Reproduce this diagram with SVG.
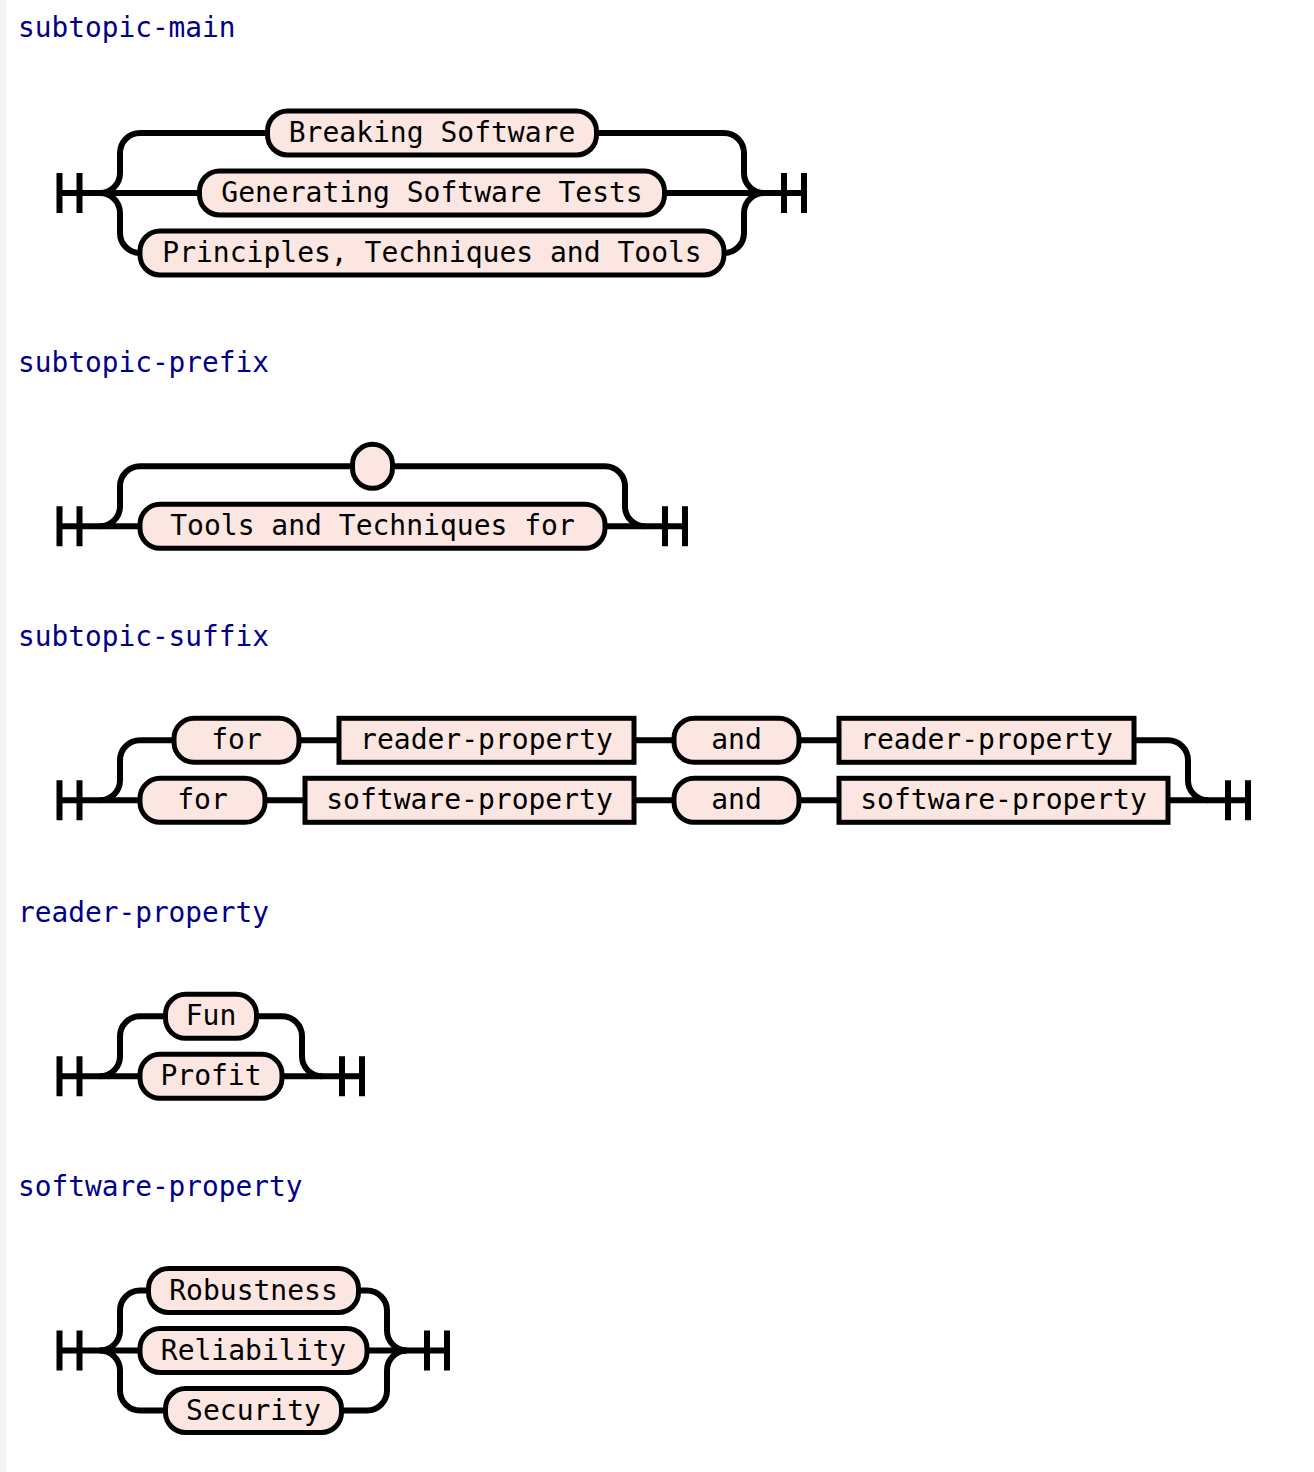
<svg xmlns="http://www.w3.org/2000/svg" width="1314" height="1472" viewBox="0 0 1314 1472">
<style>
.rail{fill:none;stroke:#000;stroke-width:6}
.term{fill:#fbe6e2;stroke:#000;stroke-width:5}
.lbl{font-family:"DejaVu Sans Mono","Liberation Mono",monospace;font-size:28px;text-anchor:middle;fill:#000}
.title{font-family:"DejaVu Sans Mono","Liberation Mono",monospace;font-size:27.8px;fill:#000088}
</style>
<rect x="0" y="0" width="1314" height="1472" fill="#fff"/>
<rect x="0" y="0" width="6" height="1472" fill="#f3f3f3"/>

<text class="title" x="18" y="37">subtopic-main</text>
<text class="title" x="18" y="372">subtopic-prefix</text>
<text class="title" x="18" y="646">subtopic-suffix</text>
<text class="title" x="18" y="921.5">reader-property</text>
<text class="title" x="18" y="1196">software-property</text>

<!-- Diagram 1 -->
<g id="d1" transform="translate(0,193)">
  <g id="d1-connectors">
    <path class="rail" d="M59.5 -20 v40 M79.5 -20 v40 M59.5 0 H100"/>
    <path class="rail" d="M100 0 a20 20 0 0 0 20 -20 v-20 a20 20 0 0 1 20 -20 H267.5 M596.5 -60 H724 a20 20 0 0 1 20 20 v20 a20 20 0 0 0 20 20"/>
    <path class="rail" d="M100 0 H199.5 M664.5 0 H764"/>
    <path class="rail" d="M100 0 a20 20 0 0 1 20 20 v20 a20 20 0 0 0 20 20 M724 60 a20 20 0 0 0 20 -20 v-20 a20 20 0 0 1 20 -20"/>
    <path class="rail" d="M764 0 H804 M784 -20 v40 M804 -20 v40"/>
  </g>
  <g id="d1-breaking"><rect class="term" x="267.5" y="-82" width="329" height="44" rx="20"/><text class="lbl" x="432" y="-51">Breaking Software</text></g>
  <g id="d1-generating"><rect class="term" x="199.5" y="-22" width="465" height="44" rx="20"/><text class="lbl" x="432" y="9">Generating Software Tests</text></g>
  <g id="d1-principles"><rect class="term" x="140" y="38" width="584" height="44" rx="20"/><text class="lbl" x="432" y="69">Principles, Techniques and Tools</text></g>
</g>

<!-- Diagram 2 -->
<g id="d2" transform="translate(0,526.3)">
  <g id="d2-connectors">
    <path class="rail" d="M59.5 -20 v40 M79.5 -20 v40 M59.5 0 H100"/>
    <path class="rail" d="M100 0 a20 20 0 0 0 20 -20 v-20 a20 20 0 0 1 20 -20 H352.5 M392.5 -60 H605 a20 20 0 0 1 20 20 v20 a20 20 0 0 0 20 20"/>
    <path class="rail" d="M100 0 H140 M605 0 H645"/>
    <path class="rail" d="M645 0 H685 M665 -20 v40 M685 -20 v40"/>
  </g>
  <g id="d2-empty"><rect class="term" x="352.5" y="-82" width="40" height="44" rx="20"/></g>
  <g id="d2-tools"><rect class="term" x="140" y="-22" width="465" height="44" rx="20"/><text class="lbl" x="372.5" y="9">Tools and Techniques for</text></g>
</g>

<!-- Diagram 3 -->
<g id="d3" transform="translate(0,800.3)">
  <g id="d3-connectors">
    <path class="rail" d="M59.5 -20 v40 M79.5 -20 v40 M59.5 0 H100"/>
    <path class="rail" d="M100 0 a20 20 0 0 0 20 -20 v-20 a20 20 0 0 1 20 -20 H174 M299 -60 H339 M634 -60 H674 M799 -60 H839 M1134 -60 H1168 a20 20 0 0 1 20 20 v20 a20 20 0 0 0 20 20"/>
    <path class="rail" d="M100 0 H140 M265 0 H305 M634 0 H674 M799 0 H839 M1168 0 H1208"/>
    <path class="rail" d="M1208 0 H1248 M1228 -20 v40 M1248 -20 v40"/>
  </g>
  <g id="d3-for1"><rect class="term" x="174" y="-82" width="125" height="44" rx="20"/><text class="lbl" x="236.5" y="-51">for</text></g>
  <g id="d3-rp1"><rect class="term" x="339" y="-82" width="295" height="44"/><text class="lbl" x="486.5" y="-51">reader-property</text></g>
  <g id="d3-and1"><rect class="term" x="674" y="-82" width="125" height="44" rx="20"/><text class="lbl" x="736.5" y="-51">and</text></g>
  <g id="d3-rp2"><rect class="term" x="839" y="-82" width="295" height="44"/><text class="lbl" x="986.5" y="-51">reader-property</text></g>
  <g id="d3-for2"><rect class="term" x="140" y="-22" width="125" height="44" rx="20"/><text class="lbl" x="202.5" y="9">for</text></g>
  <g id="d3-sp1"><rect class="term" x="305" y="-22" width="329" height="44"/><text class="lbl" x="469.5" y="9">software-property</text></g>
  <g id="d3-and2"><rect class="term" x="674" y="-22" width="125" height="44" rx="20"/><text class="lbl" x="736.5" y="9">and</text></g>
  <g id="d3-sp2"><rect class="term" x="839" y="-22" width="329" height="44"/><text class="lbl" x="1003.5" y="9">software-property</text></g>
</g>

<!-- Diagram 4 -->
<g id="d4" transform="translate(0,1076.3)">
  <g id="d4-connectors">
    <path class="rail" d="M59.5 -20 v40 M79.5 -20 v40 M59.5 0 H100"/>
    <path class="rail" d="M100 0 a20 20 0 0 0 20 -20 v-20 a20 20 0 0 1 20 -20 H165.5 M256.5 -60 H282 a20 20 0 0 1 20 20 v20 a20 20 0 0 0 20 20"/>
    <path class="rail" d="M100 0 H140 M282 0 H322"/>
    <path class="rail" d="M322 0 H362 M342 -20 v40 M362 -20 v40"/>
  </g>
  <g id="d4-fun"><rect class="term" x="165.5" y="-82" width="91" height="44" rx="20"/><text class="lbl" x="211" y="-51">Fun</text></g>
  <g id="d4-profit"><rect class="term" x="140" y="-22" width="142" height="44" rx="20"/><text class="lbl" x="211" y="9">Profit</text></g>
</g>

<!-- Diagram 5 -->
<g id="d5" transform="translate(0,1350.5)">
  <g id="d5-connectors">
    <path class="rail" d="M59.5 -20 v40 M79.5 -20 v40 M59.5 0 H100"/>
    <path class="rail" d="M100 0 a20 20 0 0 0 20 -20 v-20 a20 20 0 0 1 20 -20 H148.5 M358.5 -60 H367 a20 20 0 0 1 20 20 v20 a20 20 0 0 0 20 20"/>
    <path class="rail" d="M100 0 H140 M367 0 H407"/>
    <path class="rail" d="M100 0 a20 20 0 0 1 20 20 v20 a20 20 0 0 0 20 20 H165.5 M341.5 60 H367 a20 20 0 0 0 20 -20 v-20 a20 20 0 0 1 20 -20"/>
    <path class="rail" d="M407 0 H447 M427 -20 v40 M447 -20 v40"/>
  </g>
  <g id="d5-robustness"><rect class="term" x="148.5" y="-82" width="210" height="44" rx="20"/><text class="lbl" x="253.5" y="-51">Robustness</text></g>
  <g id="d5-reliability"><rect class="term" x="140" y="-22" width="227" height="44" rx="20"/><text class="lbl" x="253.5" y="9">Reliability</text></g>
  <g id="d5-security"><rect class="term" x="165.5" y="38" width="176" height="44" rx="20"/><text class="lbl" x="253.5" y="69">Security</text></g>
</g>
</svg>
